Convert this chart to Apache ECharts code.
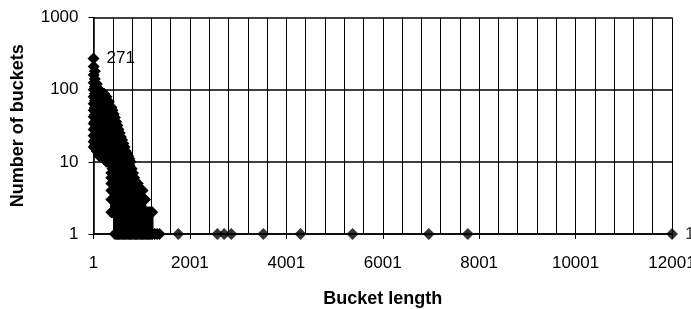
<!DOCTYPE html>
<html>
<head>
  <meta charset="utf-8">
  <script src="https://cdn.jsdelivr.net/npm/echarts/dist/echarts.min.js"></script>
  <title>Bucket length distribution</title>
  <style>
    html, body { margin: 0; padding: 0; background: #fff; }
    #chart { width: 691px; height: 309px; }
  </style>
</head>
<body>
  <div id="chart"></div>

  <script>
    // bucket lengths sampled across the dense part, with the counts seen at each
    const bodyLengths = [1, 5, 30, 70, 120, 170, 220, 270, 320, 370, 395, 420, 445, 470, 495,
      520, 545, 570, 595, 620, 645, 670, 695, 720, 745, 770, 795, 820, 845, 870, 895, 920,
      945, 970, 995, 1020, 1045, 1070, 1095, 1120, 1145, 1170, 1195, 1220, 1270, 1320, 1370];
    const bodyCounts = [
      [271],
      [210, 160, 125, 100, 80, 64, 52, 42, 34, 28, 23, 19, 16],
      [180, 140, 110, 88, 70, 56, 45, 36, 29, 24, 20, 17],
      [120, 95, 76, 61, 49, 39, 31, 25, 20, 16, 14],
      [100, 80, 64, 51, 41, 33, 27, 22, 18, 14, 12],
      [92, 74, 59, 47, 38, 30, 24, 19, 15, 12],
      [88, 70, 56, 45, 36, 29, 23, 18, 14, 11],
      [80, 65, 52, 42, 34, 27, 21, 16, 12, 10],
      [68, 56, 46, 37, 30, 24, 19, 15, 12, 10],
      [57, 47, 38, 30, 24, 19, 15, 12, 9, 7, 6, 5, 4, 3, 2],
      [52, 42, 34, 27, 21, 17, 13, 10, 8, 6, 5, 4, 3, 2],
      [46, 37, 30, 24, 19, 15, 12, 9, 7, 6, 5, 4, 3, 2],
      [41, 33, 27, 21, 17, 13, 10, 8, 6, 5, 4, 3, 2, 1],
      [36, 29, 23, 18, 14, 11, 9, 7, 5, 4, 3, 2, 1],
      [32, 26, 21, 16, 13, 10, 8, 6, 5, 4, 3, 2, 1],
      [28, 23, 18, 14, 11, 9, 7, 5, 4, 3, 2, 1],
      [25, 20, 16, 13, 10, 8, 6, 5, 4, 3, 2, 1],
      [22, 18, 14, 11, 9, 7, 5, 4, 3, 2, 1],
      [20, 16, 13, 10, 8, 6, 5, 4, 3, 2, 1],
      [18, 14, 11, 9, 7, 5, 4, 3, 2, 1],
      [16, 13, 10, 8, 6, 5, 4, 3, 2, 1],
      [14, 11, 9, 7, 5, 4, 3, 2, 1],
      [13, 10, 8, 6, 5, 4, 3, 2, 1],
      [12, 10, 8, 6, 5, 4, 3, 2, 1],
      [11, 9, 7, 5, 4, 3, 2, 1],
      [10, 8, 6, 5, 4, 3, 2, 1],
      [8, 7, 5, 4, 3, 2, 1],
      [7, 6, 5, 4, 3, 2, 1],
      [6, 5, 4, 3, 2, 1],
      [5, 4, 3, 2, 1],
      [5, 4, 3, 2, 1],
      [5, 4, 3, 2, 1],
      [4, 3, 2, 1],
      [4, 3, 2, 1],
      [4, 3, 2, 1],
      [4, 3, 2, 1],
      [3, 2, 1],
      [3, 2, 1],
      [2, 1],
      [2, 1],
      [2, 1],
      [2, 1],
      [2, 1],
      [2, 1],
      [1],
      [1],
      [1]
    ];
    // isolated long buckets, one of each
    const outlierLengths = [1760, 2570, 2710, 2860, 3525, 4295, 5375, 6955, 7765, 12001];
    const outlierCount = 1;

    const xTicks = [1, 2001, 4001, 6001, 8001, 10001, 12001];

    // consecutive lengths are joined, as in the source line chart
    const bodyPoints = [];
    bodyLengths.forEach((len, i) => {
      bodyCounts[i].forEach((c) => bodyPoints.push([len - 1, c]));
    });
    const outlierPoints = outlierLengths.map((len) => [len - 1, outlierCount]);

    const bodyData = bodyPoints.map((p, i) =>
      i === 0 ? { value: p, label: { show: true } } : p);
    const outlierData = outlierPoints.map((p, i) =>
      i === outlierPoints.length - 1 ? { value: p, label: { show: true } } : p);

    const chart = echarts.init(document.getElementById("chart"));
    const font = "Liberation Sans, Arial, sans-serif";
    const black = "#000";

    const pointLabel = {
      show: false,
      position: "right",
      distance: 7,
      fontFamily: font,
      fontSize: 17,
      color: black,
      formatter: (p) => String(p.value[1])
    };

    chart.setOption({
      backgroundColor: "#fff",
      animation: false,
      grid: {
        left: 93.5, right: 19, top: 17.5, bottom: 75,
        containLabel: false, outerBoundsMode: "none"
      },
      xAxis: {
        type: "value",
        min: xTicks[0] - 1,
        max: xTicks[xTicks.length - 1] - 1,
        interval: 2000,
        name: "Bucket length",
        nameLocation: "middle",
        nameGap: 56,
        nameTextStyle: { fontFamily: font, fontSize: 18, fontWeight: "bold", color: black },
        axisLine: { onZero: false, lineStyle: { color: black, width: 1.5 } },
        axisTick: { show: true, length: 5, lineStyle: { color: black } },
        axisLabel: {
          fontFamily: font, fontSize: 17, color: black, margin: 21,
          formatter: (v) => String(v + 1)
        },
        splitLine: { show: true, lineStyle: { color: black, width: 1 } },
        minorTick: { show: false, splitNumber: 5 },
        minorSplitLine: { show: true, lineStyle: { color: black, width: 1 } }
      },
      yAxis: {
        type: "log",
        logBase: 10,
        min: 1,
        max: 1000,
        name: "Number of buckets",
        nameLocation: "middle",
        nameGap: 66,
        nameTextStyle: { fontFamily: font, fontSize: 18, fontWeight: "bold", color: black },
        axisLine: { show: true, lineStyle: { color: black, width: 1.5 } },
        axisTick: { show: true, length: 5, lineStyle: { color: black } },
        axisLabel: {
          fontFamily: font, fontSize: 17, color: black, margin: 15,
          formatter: (v) => String(v)
        },
        splitLine: { show: true, lineStyle: { color: black, width: 1.5 } }
      },
      series: [
        {
          type: "line",
          symbol: "diamond",
          symbolSize: [12, 12],
          showAllSymbol: true,
          itemStyle: { color: black },
          lineStyle: { color: black, width: 2.5 },
          label: pointLabel,
          data: bodyData
        },
        {
          type: "scatter",
          symbol: "diamond",
          symbolSize: [12, 12],
          itemStyle: { color: black },
          label: pointLabel,
          data: outlierData
        }
      ]
    });
  </script>
</body>
</html>
